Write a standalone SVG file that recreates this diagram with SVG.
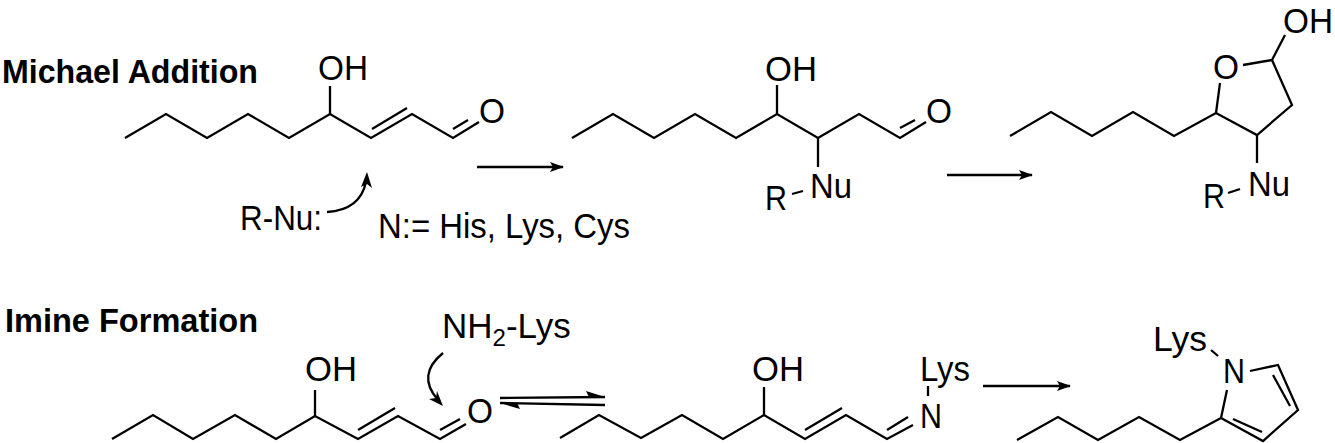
<svg xmlns="http://www.w3.org/2000/svg" width="1335" height="443" viewBox="0 0 1335 443">
<style>
.b{fill:none;stroke:#000;stroke-width:2.3;stroke-linejoin:miter;stroke-linecap:butt}
text{font-family:"Liberation Sans",Arial,sans-serif;font-size:35px;fill:#000}
.h{font-weight:bold;font-size:33px}
.s{font-size:24px}
</style>
<defs>
<marker id="ah" viewBox="0 0 14 10" refX="13" refY="5" markerWidth="14" markerHeight="10" markerUnits="userSpaceOnUse" orient="auto">
<path d="M0,0 L14,5 L0,10 L3,5 Z" fill="#000"/>
</marker>
</defs>
<rect width="1335" height="443" fill="#fff"/>
<text class="h" x="2" y="83" textLength="256" lengthAdjust="spacingAndGlyphs">Michael Addition</text>
<text class="h" x="5" y="332" textLength="253" lengthAdjust="spacingAndGlyphs">Imine Formation</text>
<g id="m1">
<polyline class="b" points="125,138 166,114 207,138 248,114 289,138 330,114 371,138 412,114 453,138 479,122"/>
<line class="b" x1="330" y1="114" x2="330" y2="86"/>
<line class="b" x1="372" y1="129" x2="407" y2="108"/>
<line class="b" x1="453" y1="129" x2="468" y2="120"/>
<text x="318" y="80" textLength="50" lengthAdjust="spacingAndGlyphs">OH</text>
<text x="479" y="123" textLength="26" lengthAdjust="spacingAndGlyphs">O</text>
</g>
<g id="m2">
<polyline class="b" points="572,138 613,114 654,138 695,114 736,138 777,114 818,138 859,114 900,138 926,122"/>
<polyline class="b" points="777,114 777,85"/>
<line class="b" x1="818" y1="138" x2="818" y2="167"/>
<line class="b" x1="792" y1="194" x2="803" y2="191"/>
<line class="b" x1="900" y1="128" x2="915" y2="120"/>
<text x="765" y="81" textLength="52" lengthAdjust="spacingAndGlyphs">OH</text>
<text x="926" y="123" textLength="26" lengthAdjust="spacingAndGlyphs">O</text>
<text x="810" y="198" textLength="42" lengthAdjust="spacingAndGlyphs">Nu</text>
<text x="765" y="210" textLength="22" lengthAdjust="spacingAndGlyphs">R</text>
</g>
<g id="m3">
<polyline class="b" points="1010,136 1051,112 1092,136 1133,112 1174,136 1216,113 1257,135 1292,105 1272,60 1243,65"/>
<line class="b" x1="1216" y1="113" x2="1220" y2="83"/>
<line class="b" x1="1272" y1="60" x2="1285" y2="35"/>
<line class="b" x1="1257" y1="135" x2="1257" y2="163"/>
<line class="b" x1="1228" y1="193" x2="1240" y2="189"/>
<text x="1213" y="79" textLength="26" lengthAdjust="spacingAndGlyphs">O</text>
<text x="1283" y="33" textLength="50" lengthAdjust="spacingAndGlyphs">OH</text>
<text x="1248" y="196" textLength="42" lengthAdjust="spacingAndGlyphs">Nu</text>
<text x="1203" y="208" textLength="22" lengthAdjust="spacingAndGlyphs">R</text>
</g>
<g id="labels1">
<text x="240" y="230" textLength="82" lengthAdjust="spacingAndGlyphs">R-Nu:</text>
<text x="378" y="238" textLength="252" lengthAdjust="spacingAndGlyphs">N:= His, Lys, Cys</text>
</g>
<g id="m4">
<polyline class="b" points="112,439 153,415 193,439 235,415 276,439 315,416 358,439 398,416 440,439 466,424"/>
<line class="b" x1="315" y1="416" x2="315" y2="390"/>
<line class="b" x1="358" y1="430" x2="395" y2="408"/>
<line class="b" x1="440" y1="430" x2="460" y2="419"/>
<text x="305" y="381" textLength="52" lengthAdjust="spacingAndGlyphs">OH</text>
<text x="467" y="423" textLength="26" lengthAdjust="spacingAndGlyphs">O</text>
<text x="442" y="338">NH<tspan class="s" dy="8">2</tspan><tspan dy="-8">-Lys</tspan></text>
</g>
<g id="m5">
<polyline class="b" points="560,438 599,415 641,438 682,415 723,439 764,415 805,439 846,415 887,439 913,425"/>
<line class="b" x1="764" y1="415" x2="764" y2="387"/>
<line class="b" x1="805" y1="430" x2="842" y2="408"/>
<line class="b" x1="887" y1="430" x2="908" y2="417"/>
<line class="b" x1="928" y1="386" x2="928" y2="396"/>
<text x="752" y="381" textLength="52" lengthAdjust="spacingAndGlyphs">OH</text>
<text x="920" y="428" textLength="22" lengthAdjust="spacingAndGlyphs">N</text>
<text x="920" y="381" textLength="50" lengthAdjust="spacingAndGlyphs">Lys</text>
</g>
<g id="m6">
<polyline class="b" points="1017,440 1058,417 1098,440 1139,417 1180,440 1221,418 1227,390"/>
<polyline class="b" points="1250,371 1278,365 1298,410 1263,441 1221,418"/>
<line class="b" x1="1273" y1="375" x2="1290" y2="406"/>
<line class="b" x1="1233" y1="419" x2="1262" y2="432"/>
<line class="b" x1="1211" y1="350" x2="1218" y2="356"/>
<text x="1223" y="383" textLength="22" lengthAdjust="spacingAndGlyphs">N</text>
<text x="1153" y="351" textLength="54" lengthAdjust="spacingAndGlyphs">Lys</text>
</g>
<g id="connectors">
<line class="b" x1="477" y1="167" x2="563" y2="167" marker-end="url(#ah)"/>
<line class="b" x1="947" y1="175" x2="1032" y2="175" marker-end="url(#ah)"/>
<line class="b" x1="983" y1="386" x2="1070" y2="386" marker-end="url(#ah)"/>
<path class="b" d="M327,212 Q360,210 366,182"/>
<path d="M367,172 L372,188 L367,184 L361,187 Z" fill="#000"/>
<path class="b" d="M443,353 Q416,375 438,400"/>
<path d="M443,406 L429,399 L436,398 L437,391 Z" fill="#000"/>
<line class="b" x1="500" y1="398" x2="605" y2="397"/>
<path d="M605,397 L586,391 L589,397 Z" fill="#000"/>
<line class="b" x1="500" y1="403" x2="605" y2="405"/>
<path d="M500,403 L520,409 L517,403 Z" fill="#000"/>
</g>
</svg>
